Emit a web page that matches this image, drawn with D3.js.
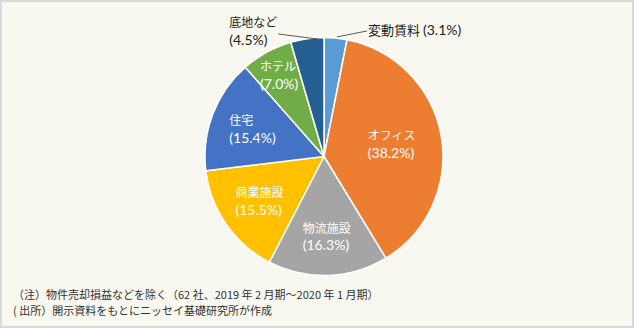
<!DOCTYPE html>
<html><head><meta charset="utf-8">
<script src="https://cdn.jsdelivr.net/npm/d3@7"></script>
<style>
html,body{margin:0;padding:0;background:#fff;}
svg{display:block;}
</style></head>
<body>
<script>
const categories = ["変動賃料","オフィス","物流施設","商業施設","住宅","ホテル","底地など"];
const values = [3.1,38.2,16.3,15.5,15.4,7.0,4.5];
const colors = ["#5B9BD5","#ED7D31","#A5A5A5","#FFC000","#4472C4","#70AD47","#255E91"];
const notes = ["（注）物件売却損益などを除く（62 社、2019 年 2 月期～2020 年 1 月期）","( 出所）開示資料をもとにニッセイ基礎研究所が作成"];

const CJK='"Noto Sans CJK JP","Noto Sans",sans-serif';
const NUM='Lato,"Noto Sans",sans-serif';
const W=634,H=328;
const svg=d3.select("body").append("svg").attr("width",W).attr("height",H);
svg.append("rect").attr("x",1).attr("y",1).attr("width",W-2).attr("height",H-2)
  .attr("fill","#F8F7F0").attr("stroke","#D9D9D9").attr("stroke-width",2);

const cx=324,cy=156.5,R=119;
const data=categories.map((c,i)=>({c,v:values[i],col:colors[i]}));
const pie=d3.pie().value(d=>d.v).sort(null);
const arcs=pie(data);
const arc=d3.arc().innerRadius(0).outerRadius(R);
const g=svg.append("g").attr("transform",`translate(${cx},${cy})`);
g.selectAll("path").data(arcs).join("path")
  .attr("d",arc).attr("fill",d=>d.data.col)
  .attr("stroke","#fff").attr("stroke-width",1.5).attr("stroke-linejoin","round");

const inner = {"オフィス":0.578,"物流施設":0.674,"商業施設":0.66,"住宅":0.643,"ホテル":0.783};
const pctText=v=>`(${v.toFixed(1)}%)`;
arcs.forEach(a=>{
  const name=a.data.c;
  if(inner[name]===undefined) return;
  const mid=(a.startAngle+a.endAngle)/2;
  const r=R*inner[name];
  const x=Math.sin(mid)*r, y=-Math.cos(mid)*r;
  const t1=g.append("text").attr("fill","#fff").attr("font-size",12)
    .style("font-family",CJK).attr("y",y-4).text(name);
  const t2=g.append("text").attr("fill","#fff").attr("font-size",14)
    .style("font-family",NUM).attr("y",y+13.8).text(pctText(a.data.v));
  const w=Math.max(t1.node().getComputedTextLength(),t2.node().getComputedTextLength());
  t1.attr("x",x-w/2); t2.attr("x",x-w/2);
});

function edge(a){const m=(a.startAngle+a.endAngle)/2;return [Math.sin(m)*R,-Math.cos(m)*R];}
const a0=arcs[0], a6=arcs[6];
const e0=edge(a0), e6=edge(a6);
const line=d3.line();
g.append("path").attr("d",line([[e0[0]+1.4,e0[1]-1.1],[e0[0]+31.4,e0[1]-7.1]]))
  .attr("fill","none").attr("stroke","#333").attr("stroke-width",0.8);
const t0=g.append("text").attr("x",e0[0]+32.4).attr("y",e0[1]-3.1).attr("fill","#222");
t0.append("tspan").style("font-family",CJK).attr("font-size",13).text(a0.data.c);
t0.append("tspan").style("font-family",NUM).attr("font-size",14).attr("dx",3).text(pctText(a0.data.v));

g.append("path").attr("d",line([[e6[0]+10,e6[1]+0.3],[e6[0]-29,e6[1]-4.7]]))
  .attr("fill","none").attr("stroke","#333").attr("stroke-width",0.8);
g.append("text").attr("x",e6[0]-78).attr("y",e6[1]-12.2).attr("font-size",12)
  .style("font-family",CJK).attr("fill","#222").text(a6.data.c);
g.append("text").attr("x",e6[0]-78).attr("y",e6[1]+6.3).attr("font-size",14)
  .style("font-family",NUM).attr("fill","#222").text(pctText(a6.data.v));

svg.selectAll("text.note").data(notes).join("text").attr("class","note")
  .attr("x",13).attr("y",(d,i)=>299+i*16).attr("font-size",11)
  .style("font-family",CJK).attr("fill","#333").text(d=>d);
</script>
</body></html>
